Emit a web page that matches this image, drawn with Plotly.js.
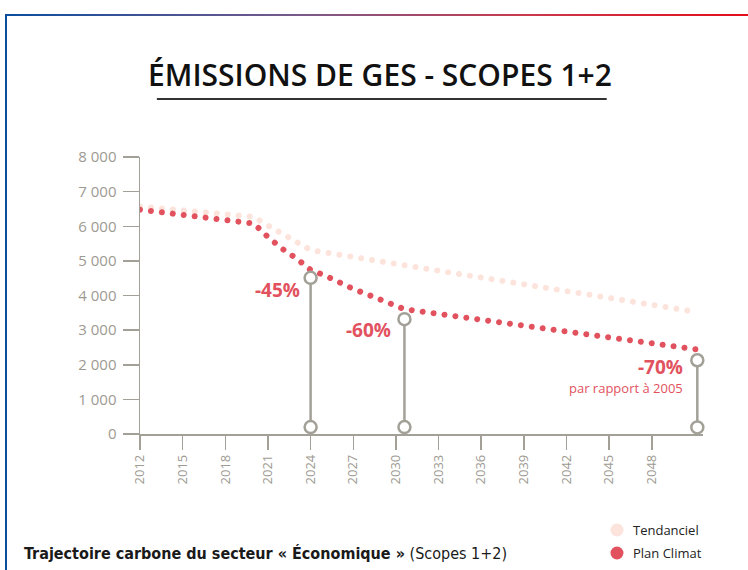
<!DOCTYPE html>
<html>
<head>
<meta charset="utf-8">
<script src="https://cdn.plot.ly/plotly-3.0.1.min.js"></script>
<style>
  html, body { margin:0; padding:0; background:#ffffff; }
  #wrap { position:relative; width:748px; height:570px; overflow:hidden; }
  #topbar { position:absolute; left:5px; top:14px; width:743px; height:2px;
            background:linear-gradient(to right, #0a4d9f 0%, #7a5a8a 40%, #c93a4c 70%, #e30d1b 100%); }
  #leftbar { position:absolute; left:5px; top:14px; width:2px; height:556px; background:#0a4d9f; }
  #chart { position:absolute; left:0; top:0; width:748px; height:570px; }
</style>
</head>
<body>
<div id="wrap">
  <div id="topbar"></div>
  <div id="leftbar"></div>
  <div id="chart"></div>
</div>
<script>
// ---- data ----
const tendYears = [2012, 2020, 2021, 2022, 2023, 2024, 2051.2];
const tendValues = [6570, 6270, 6020, 5780, 5500, 5310, 3520];

const planYears = [2012, 2020, 2021, 2022, 2023, 2024, 2025, 2026, 2027, 2028, 2029, 2030, 2030.6, 2051.2];
const planValues = [6480, 6080, 5690, 5350, 5070, 4740, 4580, 4370, 4190, 4030, 3860, 3685, 3605, 2440];

const stemYears = [2024, 2030.6, 2051.2];
const stemTop = [4510, 3315, 2130];
const stemBottom = [200, 200, 190];
const stemLabels = ['-45%', '-60%', '-70%'];

const xTickVals = [2012, 2015, 2018, 2021, 2024, 2027, 2030, 2033, 2036, 2039, 2042, 2045, 2048];
const xTickText = ['2012', '2015', '2018', '2021', '2024', '2027', '2030', '2033', '2036', '2039', '2042', '2045', '2048'];
const yTickVals = [0, 1000, 2000, 3000, 4000, 5000, 6000, 7000, 8000];
const yTickText = ['0', '1 000', '2 000', '3 000', '4 000', '5 000', '6 000', '7 000', '8 000'];

const seriesNames = ['Tendanciel', 'Plan Climat'];

// ---- styles ----
const RED = '#e2525e';
const PINK = '#fce3dc';
const GRAY = '#a3a098';
const LABELGRAY = '#9d9a92';
const FONT = '"Open Sans", "Noto Sans", sans-serif';
const seriesColors = [PINK, RED];

// stems as one trace with gaps
const sx = [], sy = [];
stemYears.forEach((yr, i) => { sx.push(yr, yr, null); sy.push(stemBottom[i], stemTop[i], null); });

const data = [
  { x: tendYears, y: tendValues, type: 'scatter', mode: 'lines', name: seriesNames[0],
    line: { color: PINK, width: 6, dash: '4px,7px' }, hoverinfo: 'skip' },
  { x: planYears, y: planValues, type: 'scatter', mode: 'lines', name: seriesNames[1],
    line: { color: RED, width: 6, dash: '4px,7px' }, hoverinfo: 'skip' },
  { x: sx, y: sy, type: 'scatter', mode: 'lines+markers', cliponaxis: false,
    line: { color: GRAY, width: 2.5 },
    marker: { symbol: 'circle', size: 12, color: '#ffffff', line: { color: GRAY, width: 2.5 } } }
];

const annotations = [
  { x: stemYears[0], y: 4170, xref: 'x', yref: 'y', text: '<b>' + stemLabels[0] + '</b>', showarrow: false,
    xanchor: 'right', yanchor: 'middle', xshift: -9, font: { family: FONT, size: 19, color: RED } },
  { x: stemYears[1], y: 3010, xref: 'x', yref: 'y', text: '<b>' + stemLabels[1] + '</b>', showarrow: false,
    xanchor: 'right', yanchor: 'middle', xshift: -11, font: { family: FONT, size: 19, color: RED } },
  { x: stemYears[2], y: 1640, xref: 'x', yref: 'y', text: '<b>' + stemLabels[2] + '</b>', showarrow: false,
    xanchor: 'right', yanchor: 'bottom', xshift: -12, yshift: -5, font: { family: FONT, size: 19, color: RED } },
  { x: stemYears[2], y: 1600, xref: 'x', yref: 'y', text: 'par rapport à 2005', showarrow: false,
    xanchor: 'right', yanchor: 'top', xshift: -12, yshift: 2, font: { family: FONT, size: 13, color: RED } },
  { x: -0.2096, y: -0.43, xref: 'paper', yref: 'paper', xanchor: 'left', yanchor: 'middle', showarrow: false,
    text: '<b>Trajectoire carbone du secteur « Économique »</b> (Scopes 1+2)',
    font: { family: '"Liberation Sans Narrow", "DejaVu Sans Condensed", sans-serif', size: 16, color: '#1a1a1a' } },
  { xref: 'container', yref: 'container', x: 45 / 748, y: 1 - 295 / 570, xanchor: 'center', yanchor: 'middle',
    text: 'ktCO₂', textangle: -90, showarrow: false, font: { family: FONT, size: 14, color: '#1a1a1a' } }
];

// manual legend (keeps plot margins fixed)
const legendY = [-0.3466, -0.4296];
const shapes = [
  { type: 'line', xref: 'paper', yref: 'paper', x0: 0.030, x1: 0.829, y0: 1.209, y1: 1.209,
    line: { color: '#333333', width: 2 } }
];
seriesNames.forEach((nm, i) => {
  shapes.push({ type: 'circle', xref: 'paper', yref: 'paper', xsizemode: 'pixel', ysizemode: 'pixel',
    xanchor: 0.8472, yanchor: legendY[i], x0: -6.5, x1: 6.5, y0: -6.5, y1: 6.5,
    fillcolor: seriesColors[i], line: { width: 0 } });
  annotations.push({ xref: 'paper', yref: 'paper', x: 0.8721, y: legendY[i], xanchor: 'left', yanchor: 'middle',
    text: nm, showarrow: false, font: { family: FONT, size: 13, color: '#222222' } });
});

const layout = {
  width: 748, height: 570,
  margin: { l: 140, r: 45, t: 157, b: 136 },
  showlegend: false,
  paper_bgcolor: 'rgba(0,0,0,0)', plot_bgcolor: 'rgba(0,0,0,0)',
  font: { family: FONT, color: LABELGRAY },
  title: { text: 'ÉMISSIONS DE GES - SCOPES 1+2', xref: 'container', yref: 'container',
           x: 0.508, xanchor: 'center', y: 0.868, yanchor: 'middle',
           font: { family: FONT, size: 30, weight: 600, color: '#111111' } },
  xaxis: { range: [2012, 2051.6], showgrid: false, zeroline: false, automargin: false,
           showline: true, linecolor: GRAY, linewidth: 1.5,
           ticks: 'outside', ticklen: 14, tickwidth: 1.5, tickcolor: GRAY,
           tickmode: 'array', tickvals: xTickVals, ticktext: xTickText, tickangle: -90,
           tickfont: { family: FONT, size: 13, color: LABELGRAY } },
  yaxis: { range: [0, 8000], showgrid: false, zeroline: false, automargin: false,
           showline: true, linecolor: GRAY, linewidth: 1.5,
           ticks: 'outside', ticklen: 16, tickwidth: 1.5, tickcolor: GRAY,
           tickmode: 'array', tickvals: yTickVals, ticktext: yTickText, ticklabelstandoff: 3,
           tickfont: { family: FONT, size: 15, color: LABELGRAY } },
  shapes: shapes,
  annotations: annotations
};

Plotly.newPlot('chart', data, layout, { staticPlot: true, displayModeBar: false }).then(gd => {
  const traces = gd.querySelectorAll('.scatterlayer .trace');
  [0, 1].forEach(i => {
    if (!traces[i]) return;
    traces[i].querySelectorAll('path.js-line').forEach(p => {
      p.style.strokeDasharray = '0.01px, 11px';
      p.style.strokeLinecap = 'round';
    });
  });
});
</script>
</body>
</html>
